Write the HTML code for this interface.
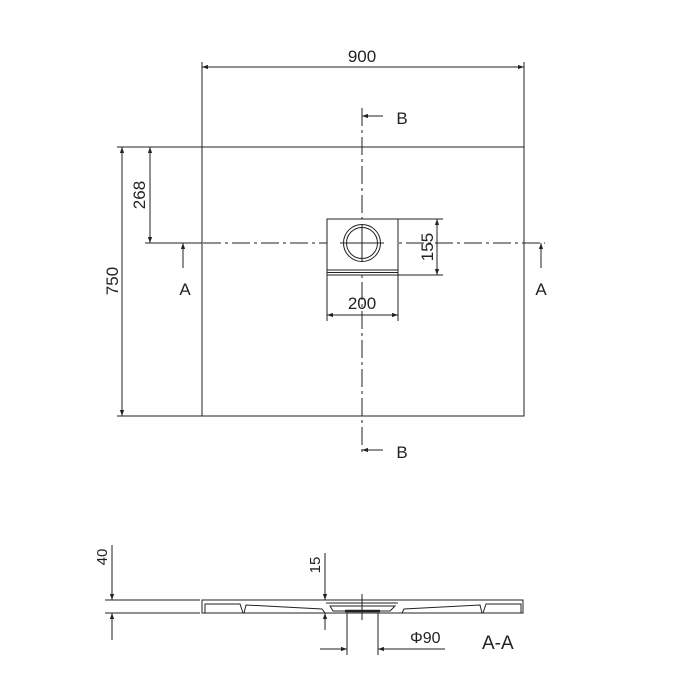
<!DOCTYPE html><html><head><style>body{margin:0;background:#fff}svg{display:block}text{font-family:"Liberation Sans",sans-serif;fill:#222}</style></head><body>
<svg width="700" height="700" viewBox="0 0 700 700" xmlns="http://www.w3.org/2000/svg">
<defs><marker id="a" viewBox="0 0 10 10" refX="10" refY="5" markerWidth="10" markerHeight="6" orient="auto-start-reverse" markerUnits="userSpaceOnUse"><path d="M0,1.5L10,5L0,8.5z" fill="#222"/></marker></defs>
<g stroke="#222" stroke-width="1" fill="none">
<rect x="202" y="147" width="322" height="269"/>
<line x1="202" y1="62" x2="202" y2="147"/><line x1="524" y1="62" x2="524" y2="147"/>
<line x1="202" y1="67" x2="524" y2="67" marker-start="url(#a)" marker-end="url(#a)"/>
<line x1="117" y1="147" x2="202" y2="147"/><line x1="117" y1="416" x2="202" y2="416"/>
<line x1="122" y1="147" x2="122" y2="416" marker-start="url(#a)" marker-end="url(#a)"/>
<line x1="145" y1="243" x2="202" y2="243"/>
<line x1="150" y1="147" x2="150" y2="243" marker-start="url(#a)" marker-end="url(#a)"/>
<line x1="145" y1="243" x2="545" y2="243" stroke-dasharray="18,4,3,4"/>
<line x1="362" y1="108" x2="362" y2="456" stroke-dasharray="18,4,3,4"/>
<rect x="327" y="219" width="71" height="56" fill="#fff"/>
<line x1="327" y1="270" x2="398" y2="270"/><line x1="327" y1="272.5" x2="398" y2="272.5"/>
<circle cx="362" cy="243" r="18.5"/><circle cx="362" cy="243" r="15.5"/>
<line x1="362" y1="225" x2="362" y2="261"/><line x1="340" y1="243" x2="384" y2="243"/>
<line x1="398" y1="219" x2="443" y2="219"/><line x1="398" y1="275" x2="443" y2="275"/>
<line x1="437" y1="219" x2="437" y2="275" marker-start="url(#a)" marker-end="url(#a)"/>
<line x1="327" y1="275" x2="327" y2="321"/><line x1="398" y1="275" x2="398" y2="321"/>
<line x1="327" y1="315" x2="398" y2="315" marker-start="url(#a)" marker-end="url(#a)"/>
<line x1="183" y1="268" x2="183" y2="243" marker-end="url(#a)"/>
<line x1="541" y1="268" x2="541" y2="243" marker-end="url(#a)"/>
<line x1="383" y1="116" x2="362" y2="116" marker-end="url(#a)"/>
<line x1="383" y1="450" x2="362" y2="450" marker-end="url(#a)"/>
<!-- section -->
<line x1="105" y1="600" x2="200" y2="600"/><line x1="105" y1="613" x2="200" y2="613"/>
<line x1="112" y1="545" x2="112" y2="600" marker-end="url(#a)"/>
<line x1="112" y1="640" x2="112" y2="613" marker-end="url(#a)"/>
<path d="M202,600 L523,600 L523,613 L202,613 Z"/>
<path d="M205,613 L205,604 L240,604 L243,613 M244,613 L246,605 L322,609 L325,613 M402,613 L404,609 L480,605 L482,613 M483,613 L486,604 L521,604 L521,613"/>
<path d="M326,603 L398,603 M330,606 L395,606 L390,611 L333,611 Z"/>
<path d="M345,611 L380,611" stroke-width="2.5"/>
<line x1="362" y1="594" x2="362" y2="620"/>
<line x1="325" y1="553" x2="325" y2="600" marker-end="url(#a)"/>
<line x1="325" y1="630" x2="325" y2="613" marker-end="url(#a)"/>
<line x1="347" y1="613" x2="347" y2="655"/><line x1="378" y1="613" x2="378" y2="655"/>
<line x1="320" y1="649" x2="347" y2="649" marker-end="url(#a)"/>
<line x1="445" y1="649" x2="378" y2="649" marker-end="url(#a)"/>
</g>
<g font-size="17">
<text x="362" y="62" text-anchor="middle">900</text>
<text transform="translate(118,281) rotate(-90)" text-anchor="middle">750</text>
<text transform="translate(145,195) rotate(-90)" text-anchor="middle">268</text>
<text transform="translate(433,247) rotate(-90)" text-anchor="middle">155</text>
<text x="362" y="309" text-anchor="middle">200</text>
<text x="185" y="295" text-anchor="middle">A</text>
<text x="541" y="295" text-anchor="middle">A</text>
<text x="402" y="124" text-anchor="middle">B</text>
<text x="402" y="458" text-anchor="middle">B</text>
<text transform="translate(107,557) rotate(-90)" text-anchor="middle" font-size="15">40</text>
<text transform="translate(320,565) rotate(-90)" text-anchor="middle" font-size="15">15</text>
<text x="410" y="643" font-size="16">Φ90</text>
<text x="482" y="649" font-size="19">A-A</text>
</g>
</svg></body></html>
